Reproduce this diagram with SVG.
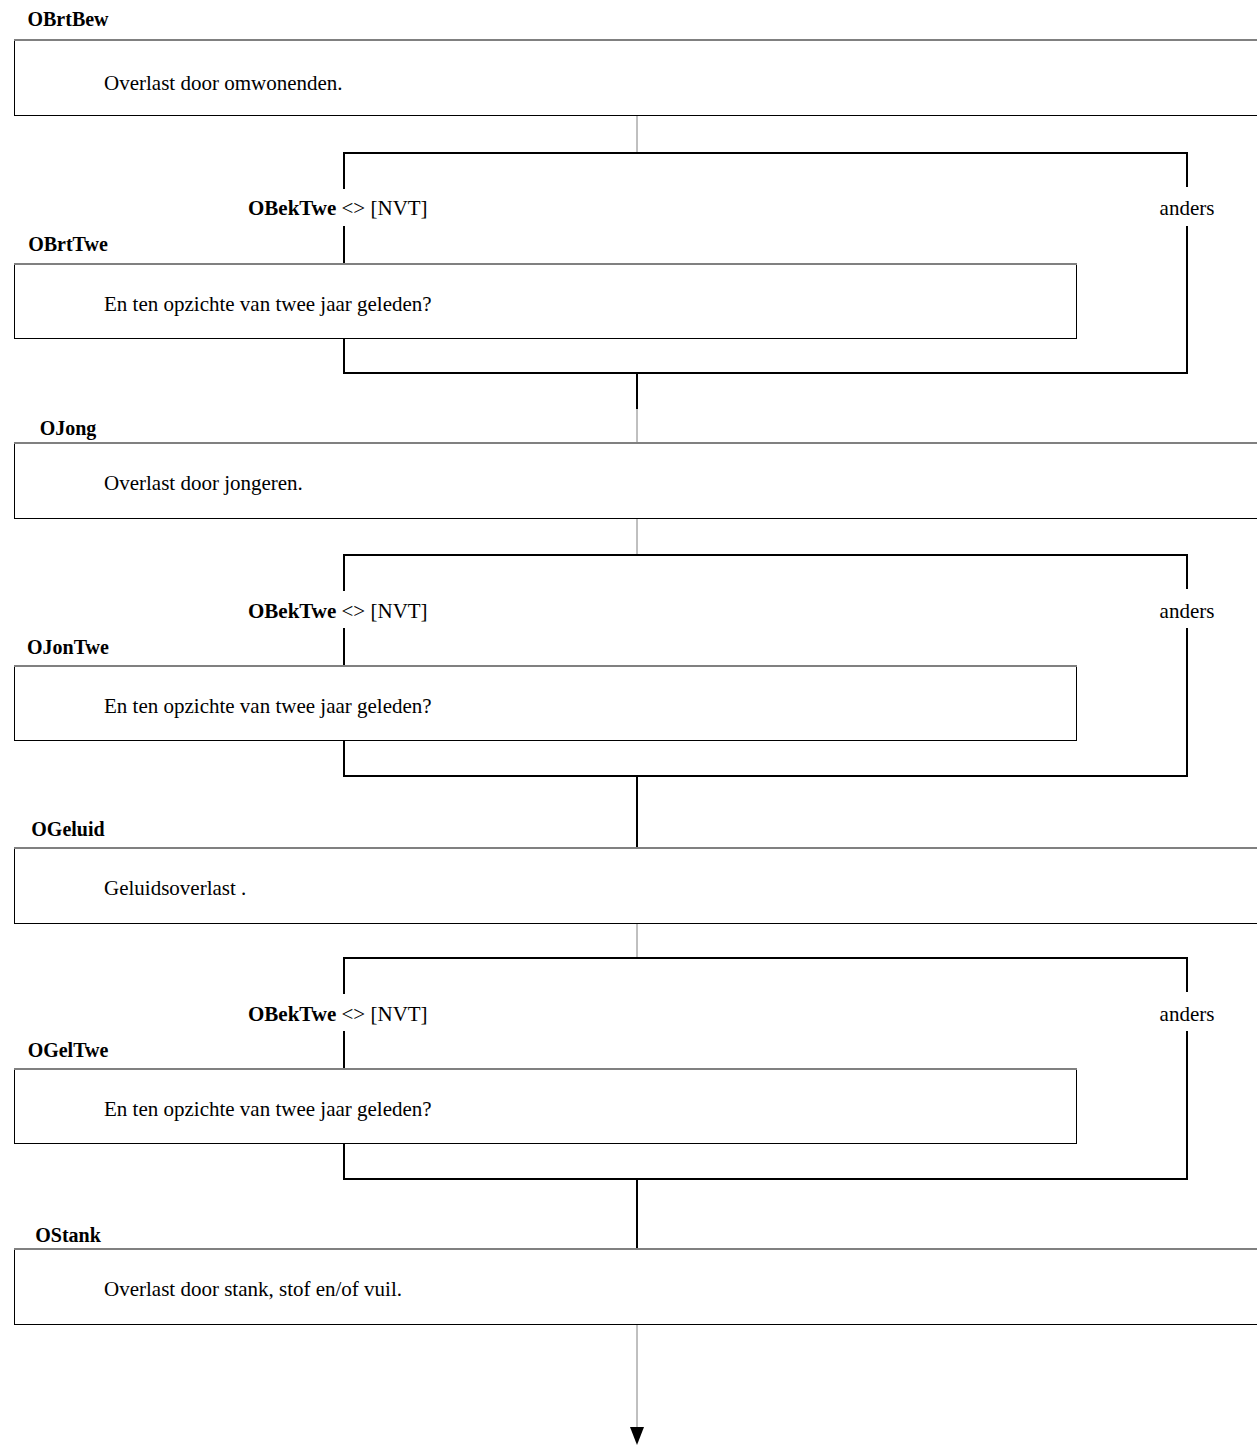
<svg xmlns="http://www.w3.org/2000/svg" width="1257" height="1445" viewBox="0 0 1257 1445">
<style>
.box{fill:#fff;stroke:#000;stroke-width:1}
.boxtop{stroke:#808080;stroke-width:2}
.lbl{font-family:"Liberation Serif","Times New Roman",serif;font-size:20px;font-weight:bold;text-anchor:middle;fill:#000}
.txt{font-family:"Liberation Serif","Times New Roman",serif;font-size:21px;fill:#000}
.cond{font-family:"Liberation Serif","Times New Roman",serif;font-size:21px;fill:#000}
.frame{stroke:#000;stroke-width:2;fill:none}
.thin{stroke:#808080;stroke-width:1;fill:none}
.thick{stroke:#000;stroke-width:2;fill:none}
</style>
<g id="connectors">
<line class="thin" x1="637" y1="116" x2="637" y2="153"/>
<line class="thick" x1="637" y1="373" x2="637" y2="409"/>
<line class="thin" x1="637" y1="409" x2="637" y2="443"/>
<line class="thin" x1="637" y1="518" x2="637" y2="555"/>
<line class="thick" x1="637" y1="776" x2="637" y2="848"/>
<line class="thin" x1="637" y1="924" x2="637" y2="958"/>
<line class="thick" x1="637" y1="1179" x2="637" y2="1249"/>
<line class="thin" x1="637" y1="1325" x2="637" y2="1428"/>
<path d="M630,1427 L644,1427 L637,1445 Z" fill="#000"/>
</g>
<g id="cond1">
<path class="frame" d="M344,189 V153 H1187 V187 M1187,226 V373 H344 V338 M344,226 V264"/>
<text class="cond" x="248" y="215"><tspan font-weight="bold">OBekTwe</tspan> &lt;&gt; [NVT]</text>
<text class="cond" x="1187" y="215" text-anchor="middle">anders</text>
</g>
<g id="cond2">
<path class="frame" d="M344,591 V555 H1187 V589 M1187,628 V776 H344 V741 M344,628 V666"/>
<text class="cond" x="248" y="618"><tspan font-weight="bold">OBekTwe</tspan> &lt;&gt; [NVT]</text>
<text class="cond" x="1187" y="618" text-anchor="middle">anders</text>
</g>
<g id="cond3">
<path class="frame" d="M344,994 V958 H1187 V992 M1187,1031 V1179 H344 V1144 M344,1031 V1069"/>
<text class="cond" x="248" y="1021"><tspan font-weight="bold">OBekTwe</tspan> &lt;&gt; [NVT]</text>
<text class="cond" x="1187" y="1021" text-anchor="middle">anders</text>
</g>
<g id="OBrtBew">
<text class="lbl" x="68" y="26">OBrtBew</text>
<rect class="box" x="14.5" y="40.5" width="1260" height="75"/>
<line class="boxtop" x1="14" y1="40" x2="1257" y2="40"/>
<text class="txt" x="104" y="90">Overlast door omwonenden.</text>
</g>
<g id="OBrtTwe">
<text class="lbl" x="68" y="251">OBrtTwe</text>
<rect class="box" x="14.5" y="264.5" width="1062" height="74"/>
<line class="boxtop" x1="14" y1="264" x2="1077" y2="264"/>
<text class="txt" x="104" y="311">En ten opzichte van twee jaar geleden?</text>
</g>
<g id="OJong">
<text class="lbl" x="68" y="435">OJong</text>
<rect class="box" x="14.5" y="443.5" width="1260" height="75"/>
<line class="boxtop" x1="14" y1="443" x2="1257" y2="443"/>
<text class="txt" x="104" y="490">Overlast door jongeren.</text>
</g>
<g id="OJonTwe">
<text class="lbl" x="68" y="654">OJonTwe</text>
<rect class="box" x="14.5" y="666.5" width="1062" height="74"/>
<line class="boxtop" x1="14" y1="666" x2="1077" y2="666"/>
<text class="txt" x="104" y="713">En ten opzichte van twee jaar geleden?</text>
</g>
<g id="OGeluid">
<text class="lbl" x="68" y="836">OGeluid</text>
<rect class="box" x="14.5" y="848.5" width="1260" height="75"/>
<line class="boxtop" x1="14" y1="848" x2="1257" y2="848"/>
<text class="txt" x="104" y="895">Geluidsoverlast .</text>
</g>
<g id="OGelTwe">
<text class="lbl" x="68" y="1057">OGelTwe</text>
<rect class="box" x="14.5" y="1069.5" width="1062" height="74"/>
<line class="boxtop" x1="14" y1="1069" x2="1077" y2="1069"/>
<text class="txt" x="104" y="1116">En ten opzichte van twee jaar geleden?</text>
</g>
<g id="OStank">
<text class="lbl" x="68" y="1242">OStank</text>
<rect class="box" x="14.5" y="1249.5" width="1260" height="75"/>
<line class="boxtop" x1="14" y1="1249" x2="1257" y2="1249"/>
<text class="txt" x="104" y="1296">Overlast door stank, stof en/of vuil.</text>
</g>
</svg>
